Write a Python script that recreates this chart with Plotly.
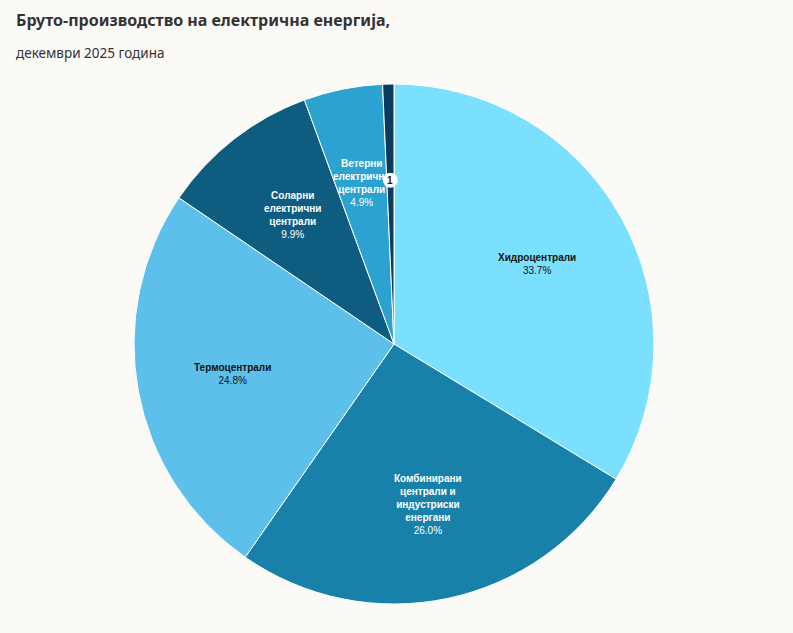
import math
import plotly.graph_objects as go

# ---- data ----
labels = ["Хидроцентрали", "Комбинирани централи и индустриски енергани",
          "Термоцентрали", "Соларни електрични централи",
          "Ветерни електрични централи", "Останато"]
label_lines = [["Хидроцентрали"],
               ["Комбинирани", "централи и", "индустриски", "енергани"],
               ["Термоцентрали"],
               ["Соларни", "електрични", "централи"],
               ["Ветерни", "електрични", "централи"],
               []]
values = [33.7, 26.0, 24.8, 9.9, 4.9, 0.7]
colors = ["#7be0fd", "#1781a9", "#5cc0eb", "#0e5d80", "#2ba2cf", "#0d3a5f"]
text_colors = ["#111111", "#ffffff", "#111111", "#ffffff", "#ffffff", "#ffffff"]
note_marker = "1"  # footnote marker shown on the smallest slice

title = "Бруто-производство на електрична енергија,"
subtitle = "декември 2025 година"

W, H = 793, 633
ML, MR, MT, MB = 0, 5, 84, 29
PW, PH = W - ML - MR, H - MT - MB
R = min(PW, PH) / 2

fig = go.Figure(go.Pie(
    labels=labels, values=values, sort=False, direction="clockwise", rotation=0,
    marker=dict(colors=colors, line=dict(color="#ffffff", width=1)),
    textinfo="none", hoverinfo="label+percent", showlegend=False,
))

total = sum(values)
annotations = []
cum = 0.0
for i, v in enumerate(values):
    mid = (cum + v / 2) / total * 2 * math.pi
    cum += v
    rr = 0.63 * R
    px = rr * math.sin(mid)
    py = rr * math.cos(mid)
    x = 0.5 + px / PW
    y = 0.5 + py / PH
    if label_lines[i]:
        txt = "<br>".join(f"<b>{l}</b>" for l in label_lines[i]) + f"<br>{v:.1f}%"
        annotations.append(dict(
            x=x, y=y, xref="paper", yref="paper", text=txt, showarrow=False,
            align="center", xanchor="center", yanchor="middle",
            font=dict(family="Liberation Sans, Arial", size=10, color=text_colors[i]),
        ))
    else:
        rpx = 7.5
        fig.add_shape(type="circle", xref="paper", yref="paper",
                      x0=x - rpx / PW, x1=x + rpx / PW, y0=y - rpx / PH, y1=y + rpx / PH,
                      fillcolor="#ffffff", line=dict(color="#ffffff", width=0))
        annotations.append(dict(
            x=x, y=y, xref="paper", yref="paper", text=f"<b>{note_marker}</b>",
            showarrow=False, xanchor="center", yanchor="middle",
            font=dict(family="Liberation Sans, Arial", size=10, color="#222222"),
        ))

annotations.append(dict(
    x=(14 - ML) / PW, y=(H - MB - 20) / PH, xref="paper", yref="paper",
    text=f"<b>{title}</b>", showarrow=False, xanchor="left", yanchor="middle",
    font=dict(family="Noto Sans", size=16, color="#333333"),
))
annotations.append(dict(
    x=(14 - ML) / PW, y=(H - MB - 53) / PH, xref="paper", yref="paper",
    text=subtitle, showarrow=False, xanchor="left", yanchor="middle",
    font=dict(family="Noto Sans", size=13.5, color="#333333"),
))

fig.update_layout(
    width=W, height=H,
    margin=dict(l=ML, r=MR, t=MT, b=MB),
    paper_bgcolor="#fcfaf7", plot_bgcolor="#fcfaf7",
    annotations=annotations,
)

fig.write_html(
    "out.html",
    config={"displayModeBar": False},
    post_script="document.body.style.margin='0';document.body.style.overflow='hidden';"
                "document.body.style.background='#fcfaf7';",
)
